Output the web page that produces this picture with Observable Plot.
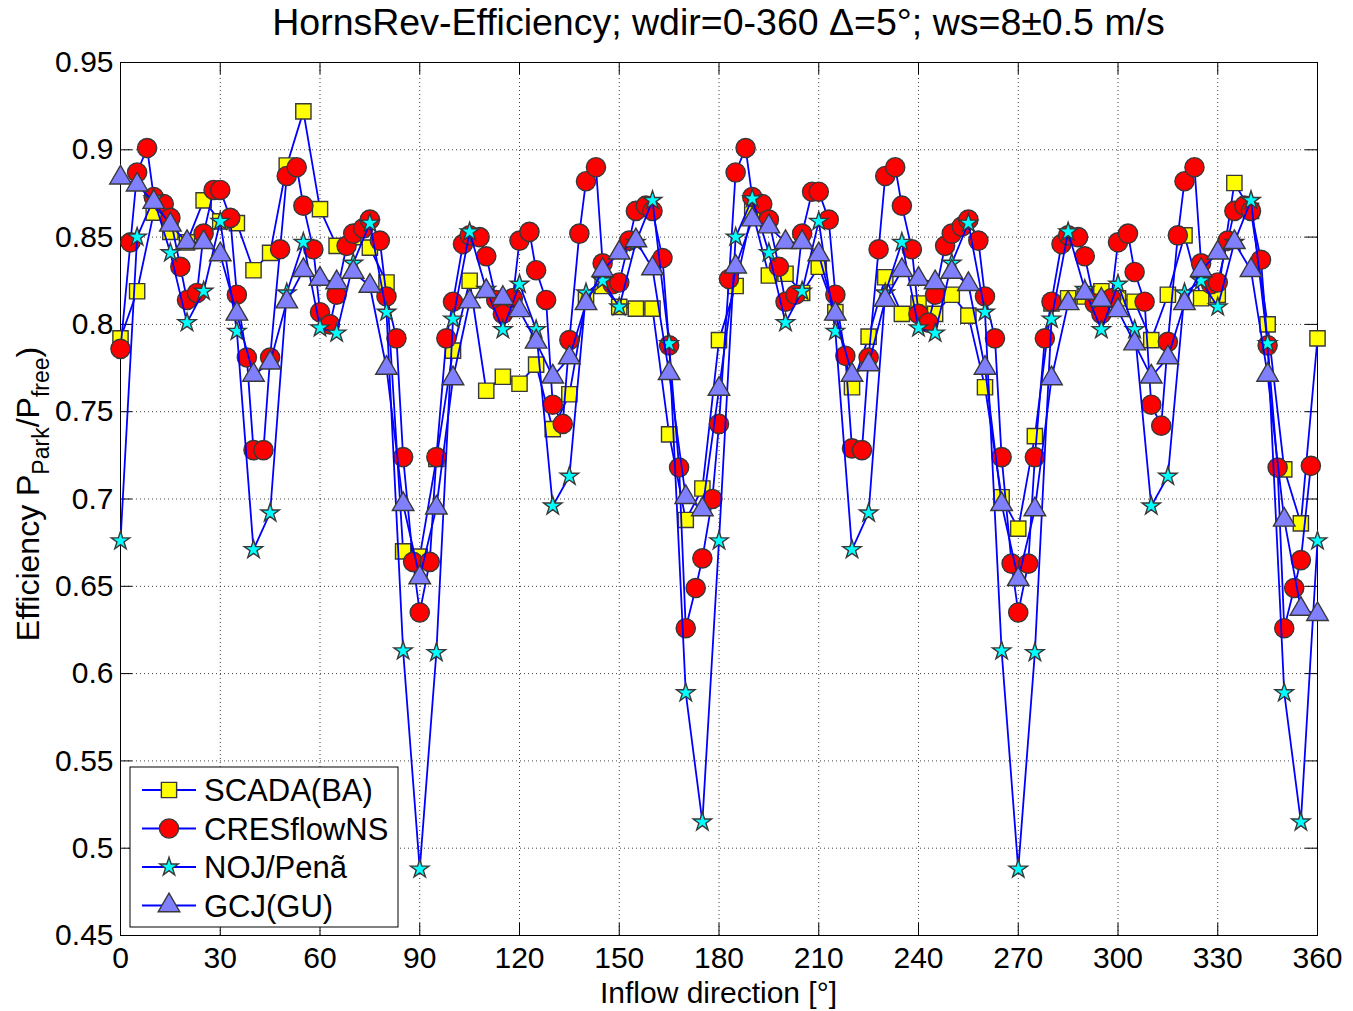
<!DOCTYPE html>
<html><head><meta charset="utf-8">
<script src="https://cdn.jsdelivr.net/npm/d3@7"></script>
<script src="https://cdn.jsdelivr.net/npm/@observablehq/plot@0.6"></script>
<style>body{margin:0;background:#fff} svg{display:block}</style>
</head><body><div id="chart"></div>
<script>
// ---------- DATA ----------
const dir5 = [0,5,10,15,20,25,30,35,40,45,50,55,60,65,70,75,80,85,90,95,100,105,110,115,120,125,130,135,140,145,150,155,160,165,170,175,180,185,190,195,200,205,210,215,220,225,230,235,240,245,250,255,260,265,270,275,280,285,290,295,300,305,310,315,320,325,330,335,340,345,350,355,360];

const scada = [0.792,0.819,0.864,0.853,0.847,0.871,0.859,0.858,0.831,0.841,0.891,0.922,0.866,0.845,0.850,0.844,0.824,0.670,0.667,0.723,0.785,0.825,0.762,0.770,0.766,0.777,0.740,0.760,0.814,0.822,0.810,0.809,0.809,0.737,0.688,0.706,0.791,0.822,0.865,0.828,0.829,0.818,0.833,0.807,0.764,0.793,0.827,0.806,0.812,0.806,0.817,0.805,0.764,0.701,0.683,0.736,0.812,0.815,0.816,0.819,0.815,0.813,0.791,0.817,0.851,0.815,0.817,0.881,0.865,0.800,0.717,0.686,0.792];

const noj = [0.676,0.850,0.872,0.841,0.801,0.819,0.859,0.796,0.671,0.692,0.818,0.847,0.798,0.795,0.835,0.858,0.807,0.613,0.488,0.612,0.803,0.853,0.820,0.797,0.823,0.797,0.696,0.713,0.818,0.825,0.810,0.847,0.871,0.789,0.589,0.515,0.676,0.850,0.872,0.841,0.801,0.819,0.859,0.796,0.671,0.692,0.818,0.847,0.798,0.795,0.835,0.858,0.807,0.613,0.488,0.612,0.803,0.853,0.820,0.797,0.823,0.797,0.696,0.713,0.818,0.825,0.810,0.847,0.871,0.789,0.589,0.515,0.676];

const gcj = [0.884,0.880,0.870,0.857,0.847,0.847,0.840,0.806,0.771,0.778,0.813,0.831,0.826,0.824,0.830,0.822,0.775,0.697,0.655,0.695,0.769,0.813,0.819,0.815,0.808,0.790,0.770,0.781,0.812,0.831,0.841,0.848,0.832,0.772,0.701,0.694,0.763,0.833,0.860,0.856,0.847,0.847,0.840,0.806,0.771,0.777,0.814,0.831,0.826,0.824,0.830,0.823,0.775,0.697,0.654,0.694,0.769,0.812,0.818,0.814,0.808,0.789,0.770,0.781,0.812,0.831,0.841,0.847,0.831,0.771,0.688,0.637,0.634];

const dirCres = [0,3,5,8,10,13,15,18,20,23,25,28,30,33,35,38,40,43,45,48,50,53,55,58,60,63,65,68,70,73,75,78,80,83,85,88,90,93,95,98,100,103,105,108,110,113,115,118,120,123,125,128,130,133,135,138,140,143,145,148,150,153,155,158,160,163,165,168,170,173,175,178,
180,183,185,188,190,193,195,198,200,203,205,208,210,213,215,218,220,223,225,228,230,233,235,238,240,243,245,248,250,253,255,258,260,263,265,268,270,273,275,278,280,283,285,288,290,293,295,298,300,303,305,308,310,313,315,318,320,323,325,328,330,333,335,338,340,343,345,348,350,353,355,358];

const cres = [0.786,0.847,0.887,0.901,0.873,0.869,0.861,0.833,0.814,0.818,0.852,0.877,0.877,0.861,0.817,0.781,0.728,0.728,0.781,0.843,0.885,0.890,0.868,0.843,0.807,0.800,0.817,0.845,0.852,0.855,0.860,0.848,0.816,0.792,0.724,0.664,0.635,0.664,0.724,0.792,0.813,0.846,0.851,0.850,0.839,0.814,0.806,0.815,0.848,0.853,0.831,0.814,0.754,0.743,0.791,0.852,0.882,0.890,0.835,0.823,0.824,0.848,0.865,0.868,0.865,0.838,0.788,0.718,0.626,0.649,0.666,0.700,
0.743,0.826,0.887,0.901,0.873,0.869,0.860,0.833,0.813,0.817,0.852,0.876,0.876,0.860,0.817,0.782,0.729,0.728,0.781,0.843,0.885,0.890,0.868,0.843,0.806,0.801,0.817,0.845,0.852,0.856,0.860,0.848,0.816,0.792,0.724,0.663,0.635,0.663,0.724,0.792,0.813,0.846,0.851,0.850,0.839,0.812,0.806,0.815,0.847,0.852,0.830,0.813,0.754,0.742,0.790,0.851,0.882,0.890,0.835,0.823,0.824,0.848,0.865,0.868,0.865,0.837,0.788,0.718,0.626,0.649,0.665,0.719];

const xTicks = [0,30,60,90,120,150,180,210,240,270,300,330,360];
const yTicks = [0.45,0.5,0.55,0.6,0.65,0.7,0.75,0.8,0.85,0.9,0.95];

const seriesNames = ["SCADA(BA)","CRESflowNS","NOJ/Penã","GCJ(GU)"];

// ---------- BUILD ----------
const W = 1353, H = 1011, mL = 120, mR = 36, mT = 62, mB = 76;
const FONT = "'Liberation Sans', Arial, Helvetica, sans-serif";
const LINE = "#0000ff", EDGE = "#383838";

const styles = [
  {name: seriesNames[0], x: dir5, y: scada, symbol: "square", r: 8.6, fill: "#ffff00"},
  {name: seriesNames[1], x: dirCres, y: cres, symbol: "circle", r: 9.6, fill: "#ff0000"},
  {name: seriesNames[2], x: dir5, y: noj, symbol: "star", r: 5.8, fill: "#00ffff"},
  {name: seriesNames[3], x: dir5, y: gcj, symbol: "triangle", r: 8.0, fill: "#8080ff"}
];
const tables = styles.map(s => s.x.map((d, i) => ({dir: d, eff: s.y[i]})));

// tick lengths (12 px) expressed in data units
const plotW = W - mL - mR, plotH = H - mT - mB;
const txLen = 12 * 360 / plotW;
const tyLen = 12 * 0.5 / plotH;

const marks = [
  Plot.gridX(xTicks, {stroke: "#000", strokeOpacity: 0.75, strokeDasharray: "1,3", strokeWidth: 1}),
  Plot.gridY(yTicks, {stroke: "#000", strokeOpacity: 0.75, strokeDasharray: "1,3", strokeWidth: 1}),
  Plot.ruleX(xTicks, {x: d => d, y1: 0.45, y2: 0.45 + tyLen, stroke: "#000"}),
  Plot.ruleX(xTicks, {x: d => d, y1: 0.95 - tyLen, y2: 0.95, stroke: "#000"}),
  Plot.ruleY(yTicks, {y: d => d, x1: 0, x2: txLen, stroke: "#000"}),
  Plot.ruleY(yTicks, {y: d => d, x1: 360 - txLen, x2: 360, stroke: "#000"}),
  Plot.frame({stroke: "#000", strokeWidth: 1}),
  Plot.axisX(xTicks, {tickSize: 0, tickPadding: 11, fontSize: 30, label: null}),
  Plot.axisY(yTicks, {tickSize: 0, tickPadding: 7, fontSize: 30, label: null, tickFormat: d => String(+d.toFixed(2))})
];
styles.forEach((s, k) => {
  marks.push(Plot.line(tables[k], {x: "dir", y: "eff", stroke: LINE, strokeWidth: 1.8}));
  marks.push(Plot.dot(tables[k], {x: "dir", y: "eff", symbol: s.symbol, r: s.r, fill: s.fill, stroke: EDGE, strokeWidth: 1.4}));
});

const chart = Plot.plot({
  width: W, height: H,
  marginLeft: mL, marginRight: mR, marginTop: mT, marginBottom: mB,
  style: {fontFamily: FONT, color: "#000", background: "#fff", overflow: "visible"},
  x: {domain: [0, 360], label: null},
  y: {domain: [0.45, 0.95], label: null},
  marks
});
document.getElementById("chart").appendChild(chart);

// ---------- TEXT DECORATIONS & LEGEND ----------
const svg = d3.select(chart);
svg.append("text")
  .attr("x", mL + plotW / 2).attr("y", 35)
  .attr("text-anchor", "middle").attr("font-family", FONT).attr("font-size", 37.5).attr("fill", "#000")
  .text("HornsRev-Efficiency; wdir=0-360 \u0394=5°; ws=8±0.5 m/s");

svg.append("text")
  .attr("x", mL + plotW / 2).attr("y", 1003)
  .attr("text-anchor", "middle").attr("font-family", FONT).attr("font-size", 30).attr("fill", "#000")
  .text("Inflow direction [°]");

const yl = svg.append("text")
  .attr("transform", "translate(39,494) rotate(-90)")
  .attr("text-anchor", "middle").attr("font-family", FONT).attr("font-size", 32).attr("fill", "#000");
yl.append("tspan").text("Efficiency P");
yl.append("tspan").attr("dy", 10).attr("font-size", 23).text("Park");
yl.append("tspan").attr("dy", -10).text("/P");
yl.append("tspan").attr("dy", 10).attr("font-size", 23).text("free");
yl.append("tspan").attr("dy", -10).text(")");

const lg = svg.append("g");
lg.append("rect").attr("x", 130).attr("y", 767).attr("width", 268).attr("height", 160)
  .attr("fill", "#fff").attr("stroke", "#000").attr("stroke-width", 1);
const symMap = {square: d3.symbolSquare, circle: d3.symbolCircle, star: d3.symbolStar, triangle: d3.symbolTriangle};
styles.forEach((s, i) => {
  const cy = 790 + i * 38.5;
  lg.append("line").attr("x1", 142).attr("x2", 196).attr("y1", cy).attr("y2", cy)
    .attr("stroke", LINE).attr("stroke-width", 1.8);
  lg.append("path").attr("transform", `translate(169,${cy})`)
    .attr("d", d3.symbol(symMap[s.symbol], Math.PI * s.r * s.r)())
    .attr("fill", s.fill).attr("stroke", EDGE).attr("stroke-width", 1.4);
  lg.append("text").attr("x", 204).attr("y", cy).attr("dy", "0.36em")
    .attr("text-anchor", "start")
    .attr("font-family", FONT).attr("font-size", 31).attr("fill", "#000").text(s.name);
});
</script></body></html>
